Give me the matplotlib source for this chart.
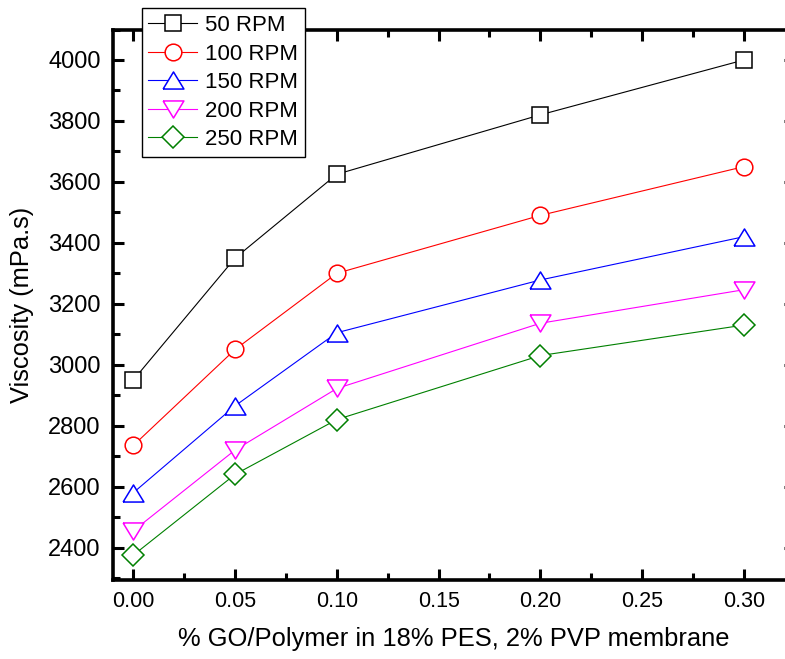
import matplotlib
matplotlib.use("Agg")
import matplotlib.pyplot as plt
from matplotlib.ticker import MultipleLocator, FormatStrFormatter

plt.rcParams['font.family'] = ['Liberation Sans', 'DejaVu Sans']

# GO loading (% GO/Polymer) and viscosity readings per spindle speed
go_loading = [0.00, 0.05, 0.10, 0.20, 0.30]
speed_labels = ["50 RPM", "100 RPM", "150 RPM", "200 RPM", "250 RPM"]
visc_50 = [2950, 3350, 3625, 3820, 4000]
visc_100 = [2735, 3050, 3300, 3490, 3650]
visc_150 = [2580, 2865, 3105, 3278, 3420]
visc_200 = [2455, 2720, 2922, 3136, 3246]
visc_250 = [2375, 2640, 2820, 3030, 3130]

series = [visc_50, visc_100, visc_150, visc_200, visc_250]
colors = ["black", "#ff0000", "#0000ff", "#ff00ff", "#008000"]

tri_up = [(-1, -0.82), (1, -0.82), (0, 0.82), (-1, -0.82)]
tri_down = [(-1, 0.82), (1, 0.82), (0, -0.82), (-1, 0.82)]
markers = ["s", "o", tri_up, tri_down, "D"]
msizes = [11.3, 12.0, 15.0, 15.0, 11.2]

fig = plt.figure(figsize=(7.85, 6.59), dpi=100)
ax = fig.add_axes([0.14395, 0.1206, 0.8684, 0.8346])

for vals, lab, c, m, ms in zip(series, speed_labels, colors, markers, msizes):
    ax.plot(go_loading, vals, color=c, lw=0.8, marker=m, ms=ms,
            mfc="white", mec=c, mew=1.1, label=lab)

ax.set_xlim(-0.01, 0.325)
ax.set_ylim(2295, 4100)
ax.xaxis.set_major_locator(MultipleLocator(0.05))
ax.xaxis.set_minor_locator(MultipleLocator(0.025))
ax.yaxis.set_major_locator(MultipleLocator(200))
ax.yaxis.set_minor_locator(MultipleLocator(100))
ax.xaxis.set_major_formatter(FormatStrFormatter("%.2f"))

for s in ax.spines.values():
    s.set_linewidth(2.6)
ax.tick_params(which="both", direction="in", top=True, right=True, width=2.2)
ax.tick_params(which="major", length=8)
ax.tick_params(which="minor", length=5)
ax.tick_params(axis="x", which="major", labelsize=15.5, pad=8)
ax.tick_params(axis="y", which="major", labelsize=17, pad=9)

ax.set_xlabel("% GO/Polymer in 18% PES, 2% PVP membrane", fontsize=18.4)
ax.set_ylabel("Viscosity (mPa.s)", fontsize=18.4)
ax.xaxis.set_label_coords(0.5, -0.0864)
ax.yaxis.set_label_coords(-0.1159, 0.5)

leg = ax.legend(loc="upper left", bbox_to_anchor=(141.7 / 785, 1 - 8.3 / 659),
                bbox_transform=fig.transFigure, borderaxespad=0, fontsize=16,
                frameon=True, fancybox=False, edgecolor="black", framealpha=1,
                handlelength=2.2, handletextpad=0.35, labelspacing=0.34,
                borderpad=0.3)
leg.get_frame().set_linewidth(1.0)
leg.set_zorder(10)

fig.savefig("out.png", dpi=100, facecolor="white")
